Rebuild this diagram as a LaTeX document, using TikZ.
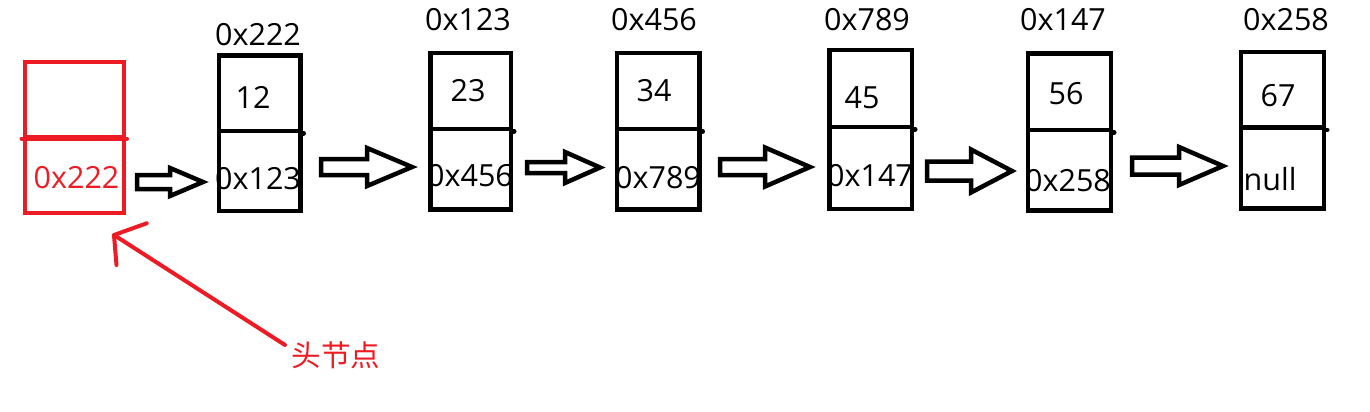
\documentclass[tikz,border=0pt]{standalone}
\usepackage{fontspec}
\setmainfont{Open Sans}
\newfontfamily\cjk{Noto Sans CJK SC}
\usetikzlibrary{calc}
\definecolor{paintred}{RGB}{237,28,36}
\tikzset{
  cell/.style={draw=black, line width=4.5pt, inner sep=0pt},
  redcell/.style={draw=paintred, line width=4pt, inner sep=0pt},
  txt/.style={inner sep=0pt, text height=22pt, text depth=0pt, font=\fontsize{30.5}{36}\selectfont},
  blk/.style={draw=black, line width=4.5pt, line join=miter, fill=white},
  redline/.style={draw=paintred, line width=4pt, line cap=round, line join=round},
  nub/.style={line width=4.5pt, line cap=round}
}
% \listbox{name}{L}{R}{T}{D}{B}{style}
\newcommand{\listbox}[7]{%
  \node[#7, minimum width={#3-#2}, minimum height={#5-#4}] (#1t) at ({(#2+#3)/2},{(#4+#5)/2}) {};
  \node[#7, minimum width={#3-#2}, minimum height={#6-#5}] (#1b) at ({(#2+#3)/2},{(#5+#6)/2}) {};
}
% \blockarrow{x1}{x2}{yc}{shaft half}{head half}{head start x}
\newcommand{\blockarrow}[6]{%
  \draw[blk] (#1,{#3-#4}) -- (#6,{#3-#4}) -- (#6,{#3-#5}) -- (#2,#3) -- (#6,{#3+#5}) -- (#6,{#3+#4}) -- (#1,{#3+#4}) -- cycle;
}
\begin{document}
\begin{tikzpicture}[x=1pt,y=-1pt]
\useasboundingbox (0,0) rectangle (1370,412);

% head node (red)
\listbox{h}{24.5}{124}{62}{136.5}{213}{redcell}
\draw[nub, draw=paintred, line width=4pt] ([xshift=-1pt]ht.south west) -- ([xshift=1pt]ht.south east);
\node[txt, text=paintred] (hv) at (76.5,177.5) {0x222};

% list nodes
\listbox{n1}{219}{300.5}{55.5}{131}{211}{cell}
\listbox{n2}{430.5}{511}{53}{129}{209.5}{cell}
\listbox{n3}{617}{699.5}{53}{129}{209.5}{cell}
\listbox{n4}{829.5}{912}{50}{127}{209}{cell}
\listbox{n5}{1028}{1111}{53.5}{130}{210.5}{cell}
\listbox{n6}{1241}{1324}{52}{127.7}{208.5}{cell}
\foreach \n in {n1,n2,n3,n4,n5,n6}
  \draw[nub] (\n t.south east) -- ([xshift=1pt]\n t.south east);

% address labels above
\node[txt] (a1) at (258,35) {0x222};
\node[txt] (a2) at (468,20) {0x123};
\node[txt] (a3) at (654,20) {0x456};
\node[txt] (a4) at (867,20) {0x789};
\node[txt] (a5) at (1063,20) {0x147};
\node[txt] (a6) at (1286,20) {0x258};

% data values
\node[txt] (d1) at (253,97) {12};
\node[txt] (d2) at (468,90) {23};
\node[txt] (d3) at (654,90) {34};
\node[txt] (d4) at (862,97) {45};
\node[txt] (d5) at (1066,93) {56};
\node[txt] (d6) at (1278,95) {67};

% next pointers
\node[txt] (p1) at (258,178) {0x123};
\node[txt] (p2) at (470,175) {0x456};
\node[txt] (p3) at (658,177) {0x789};
\node[txt] (p4) at (870,175) {0x147};
\node[txt] (p5) at (1068,180) {0x258};
\node[txt] (p6) at (1270,179.5) {null};

% block arrows
\blockarrow{137}{203}{182}{7}{14}{170}
\blockarrow{321}{412}{167}{8}{19}{367}
\blockarrow{527}{600}{167.5}{5.5}{15.5}{565}
\blockarrow{720}{810}{167}{8}{19.5}{765}
\blockarrow{927}{1012}{171}{9.5}{21.5}{971}
\blockarrow{1132}{1223}{166}{8.5}{19}{1179}

% head label and red arrow
\node[inner sep=0pt, text=paintred, font=\cjk\fontsize{29.5}{34}\selectfont, text height=24pt, text depth=2pt] (lbl) at (336,355) {头节点};
\coordinate (tip) at (114,235);
\coordinate (tail) at (285,345);
\coordinate (barbA) at (146.7,223.3);
\coordinate (barbB) at (116.5,265);
\draw[redline] (tail) -- (tip);
\draw[redline] (barbA) -- (tip) -- (barbB);
\end{tikzpicture}
\end{document}
